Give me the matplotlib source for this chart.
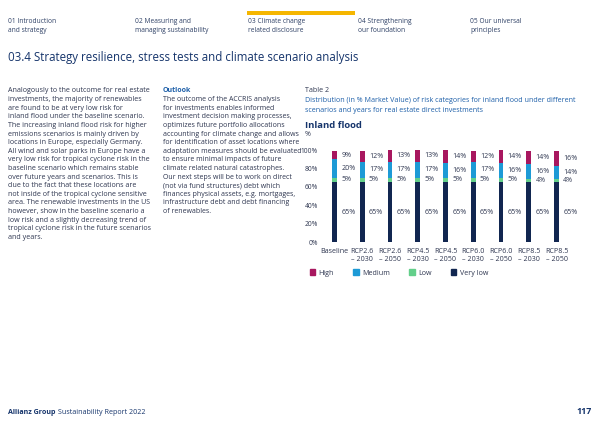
import matplotlib
matplotlib.use("Agg")
import matplotlib.pyplot as plt
from matplotlib.patches import Rectangle, Patch

plt.rcParams['font.family'] = ['Open Sans', 'DejaVu Sans']

W, H = 600, 424

# chart data (% market value)
scenarios = ["Baseline", "RCP2.6\n– 2030", "RCP2.6\n– 2050", "RCP4.5\n– 2030", "RCP4.5\n– 2050",
             "RCP6.0\n– 2030", "RCP6.0\n– 2050", "RCP8.5\n– 2030", "RCP8.5\n– 2050"]
very_low = [65, 65, 65, 65, 65, 65, 65, 65, 65]
low = [5, 5, 5, 5, 5, 5, 5, 4, 4]
medium = [20, 17, 17, 17, 16, 17, 16, 16, 14]
high = [9, 12, 13, 13, 14, 12, 14, 14, 16]
y_ticks = [0, 20, 40, 60, 80, 100]

c_high = "#a8175f"
c_med = "#1d9ad6"
c_low = "#63cf8a"
c_vlow = "#112650"
c_text = "#2e3650"
c_blue = "#1c5ea8"
c_navy = "#15346b"
fs = 5.15

fig = plt.figure(figsize=(6, 4.24), dpi=100)
fig.patch.set_facecolor("white")


def px(x, y):
    return x / W, 1 - y / H


def txt(x, y, s, **kw):
    kw.setdefault("va", "center")
    kw.setdefault("color", c_text)
    kw.setdefault("fontsize", fs)
    return fig.text(*px(x, y), s, **kw)


# top navigation
fig.patches.append(Rectangle(px(247, 15), 108 / W, 4 / H, transform=fig.transFigure,
                             color="#f5b600", lw=0))
nav = [(8, "01 Introduction\nand strategy"), (135, "02 Measuring and\nmanaging sustainability"),
       (248, "03 Climate change\nrelated disclosure"), (358, "04 Strengthening\nour foundation"),
       (470, "05 Our universal\nprinciples")]
for x, s in nav:
    txt(x, 26, s, fontsize=4.8, linespacing=1.45, color="#2f4166")

txt(8, 57, "03.4 Strategy resilience, stress tests and climate scenario analysis",
    fontsize=8.3, color=c_navy)

left_col = [
    "Analogously to the outcome for real estate",
    "investments, the majority of renewables",
    "are found to be at very low risk for",
    "inland flood under the baseline scenario.",
    "The increasing inland flood risk for higher",
    "emissions scenarios is mainly driven by",
    "locations in Europe, especially Germany.",
    "All wind and solar parks in Europe have a",
    "very low risk for tropical cyclone risk in the",
    "baseline scenario which remains stable",
    "over future years and scenarios. This is",
    "due to the fact that these locations are",
    "not inside of the tropical cyclone sensitive",
    "area. The renewable investments in the US",
    "however, show in the baseline scenario a",
    "low risk and a slightly decreasing trend of",
    "tropical cyclone risk in the future scenarios",
    "and years.",
]
mid_col = [
    "The outcome of the ACCRIS analysis",
    "for investments enables informed",
    "investment decision making processes,",
    "optimizes future portfolio allocations",
    "accounting for climate change and allows",
    "for identification of asset locations where",
    "adaptation measures should be evaluated",
    "to ensure minimal impacts of future",
    "climate related natural catastrophes.",
    "Our next steps will be to work on direct",
    "(not via fund structures) debt which",
    "finances physical assets, e.g. mortgages,",
    "infrastructure debt and debt financing",
    "of renewables.",
]
y0, dy = 91, 8.6
for i, s in enumerate(left_col):
    txt(8, y0 + i * dy, s)
txt(163, y0, "Outlook", color=c_blue, fontweight="bold", fontsize=5.0)
for i, s in enumerate(mid_col):
    txt(163, y0 + (i + 1) * dy, s, fontsize=5.0)

txt(305, y0, "Table 2")
txt(305, 101, "Distribution (in % Market Value) of risk categories for inland flood under different",
    color=c_blue)
txt(305, 110, "scenarios and years for real estate direct investments", color=c_blue)
txt(305, 125, "Inland flood", fontsize=6.8, fontweight="bold", color=c_navy)
txt(305, 134, "%")

# chart
ax = fig.add_axes([320.6 / W, 1 - 242 / H, 249.8 / W, 92 / H])
x = range(len(scenarios))
bw = 0.17
bottoms = [0] * len(scenarios)
for vals, col, name in [(very_low, c_vlow, "Very low"), (low, c_low, "Low"),
                        (medium, c_med, "Medium"), (high, c_high, "High")]:
    ax.bar(x, vals, bw, bottom=bottoms, color=col, lw=0, clip_on=False)
    for i, v in enumerate(vals):
        ax.text(i + 0.24, bottoms[i] + v / 2, f"{v}%", fontsize=fs, color=c_text,
                va="center", ha="left")
    bottoms = [b + v for b, v in zip(bottoms, vals)]

ax.set_xlim(-0.5, len(scenarios) - 0.5)
ax.set_ylim(0, 100)
ax.set_yticks(y_ticks)
ax.set_yticklabels([f"{t}%" for t in y_ticks])
ax.set_xticks(list(x))
ax.set_xticklabels(scenarios, linespacing=1.2)
ax.tick_params(length=0, labelsize=fs, labelcolor=c_text, pad=2)
ax.tick_params(axis="x", pad=4)
ax.tick_params(axis="y", labelsize=4.8)
for sp in ax.spines.values():
    sp.set_visible(False)
ax.patch.set_alpha(0)

handles = [Patch(color=c) for c in (c_high, c_med, c_low, c_vlow)]
fig.legend(handles, ["High", "Medium", "Low", "Very low"], loc="center left",
           bbox_to_anchor=px(306, 273), ncol=4, frameon=False, fontsize=fs,
           handlelength=0.75, handleheight=0.75, handletextpad=0.5, columnspacing=2.7,
           labelcolor=c_text, borderpad=0)

# footer
t1 = txt(8, 412, "Allianz Group", fontweight="bold", color=c_navy)
fig.canvas.draw()
bb = t1.get_window_extent()
txt(8 + bb.width + 2.5, 412, "Sustainability Report 2022", color=c_navy)
txt(592, 412, "117", fontweight="bold", color=c_navy, fontsize=6.4, ha="right")

fig.savefig("out.png", dpi=100)
